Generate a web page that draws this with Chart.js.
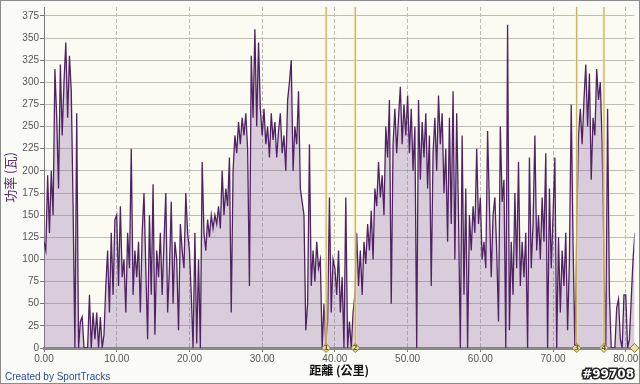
<!DOCTYPE html>
<html>
<head>
<meta charset="utf-8">
<script src="https://cdn.jsdelivr.net/npm/chart.js@4/dist/chart.umd.min.js"></script>
<style>
  html, body { margin: 0; padding: 0; background: #fafaf6; }
  #caixa { width: 640px; height: 384px; }
</style>
</head>
<body>
<div id="caixa"><canvas id="graficoPotencia" width="640" height="384"></canvas></div>
<script>
// distância entre amostras (km)
const PASSO = 0.25;

const potencia0a10 = [
  120, 110, 195, 130, 200, 150, 315, 260, 180, 320,
  240, 300, 345, 260, 330, 290, 160, 0, 265, 0,
  30, 35, 0, 0, 0, 60, 0, 40, 10, 40,
  0, 35, 0, 15, 70, 110, 40, 130, 60, 145,
];
const potencia10a20 = [
  150, 70, 160, 80, 100, 40, 130, 90, 225, 60,
  110, 80, 120, 40, 130, 175, 90, 10, 150, 60,
  185, 15, 110, 80, 130, 60, 120, 175, 40, 90,
  165, 50, 120, 100, 20, 140, 110, 90, 175, 130,
];
const potencia20a30 = [
  110, 60, 0, 130, 5, 100, 0, 210, 130, 110,
  145, 125, 150, 135, 150, 140, 160, 135, 200, 150,
  180, 160, 215, 40, 200, 240, 220, 255, 230, 260,
  240, 265, 225, 70, 330, 260, 360, 250, 345, 270,
];
const potencia30a40 = [
  240, 270, 230, 250, 215, 265, 235, 255, 215, 245,
  265, 220, 240, 200, 280, 300, 325, 200, 250, 230,
  290, 180, 165, 150, 20, 50, 230, 70, 110, 75,
  120, 90, 100, 0, 50, 5, 30, 170, 40, 100,
];
const potencia40a50 = [
  90, 60, 110, 40, 80, 0, 170, 0, 30, 0,
  40, 60, 130, 70, 110, 60, 120, 95, 140, 110,
  155, 100, 180, 160, 210, 170, 195, 150, 250, 215,
  280, 50, 230, 270, 220, 260, 295, 230, 275, 240,
];
const potencia50a60 = [
  285, 220, 270, 200, 250, 0, 280, 190, 255, 215,
  265, 180, 240, 70, 220, 260, 200, 285, 230, 265,
  175, 225, 120, 260, 140, 290, 100, 265, 150, 0,
  240, 60, 180, 0, 150, 110, 160, 130, 225, 140,
];
const potencia60a70 = [
  170, 100, 120, 90, 245, 160, 80, 150, 170, 110,
  30, 250, 165, 190, 0, 365, 20, 120, 60, 175,
  90, 210, 70, 120, 80, 130, 0, 215, 90, 140,
  240, 110, 150, 100, 170, 120, 220, 0, 180, 90,
];
const potencia70a81 = [
  150, 215, 0, 125, 40, 110, 70, 130, 20, 100,
  275, 120, 0, 130, 240, 270, 230, 280, 320, 250,
  310, 190, 260, 240, 315, 280, 300, 230, 100, 0,
  270, 60, 0, 0, 0, 45, 55, 10, 0, 60,
  60, 0, 10, 55, 100, 130,
];

// marcadores de volta (km)
const voltas = [38.8, 42.8, 73.25, 77.0];
const marcadores = [38.8, 42.8, 73.25, 77.0, 81.2];

const Y_MAX = 385;
const X_MAX = 81.2;

function montarDatasets() {
  const potencia = [
    ...potencia0a10, ...potencia10a20, ...potencia20a30, ...potencia30a40,
    ...potencia40a50, ...potencia50a60, ...potencia60a70, ...potencia70a81,
  ];
  const pontos = potencia.map((p, i) => ({ x: i * PASSO, y: p }));

  const datasets = [
    {
      type: "line",
      data: pontos,
      borderColor: "#4f2262",
      borderWidth: 1.3,
      backgroundColor: "rgba(135, 98, 165, 0.3)",
      fill: "origin",
      pointRadius: 0,
      tension: 0,
      order: 3,
    },
  ];

  voltas.forEach((km) => {
    datasets.push({
      type: "line",
      data: [{ x: km, y: 0 }, { x: km, y: Y_MAX }],
      borderColor: "rgba(245, 232, 180, 0.6)",
      borderWidth: 3,
      pointRadius: 0,
      order: 2,
    });
    datasets.push({
      type: "line",
      data: [{ x: km, y: 0 }, { x: km, y: Y_MAX }],
      borderColor: "#c2a550",
      borderWidth: 1,
      pointRadius: 0,
      order: 1,
    });
  });

  datasets.push({
    type: "scatter",
    data: marcadores.map((km) => ({ x: km, y: 0 })),
    pointStyle: "rectRot",
    pointRadius: 4.5,
    backgroundColor: "#ece0a2",
    borderColor: "#8a7632",
    borderWidth: 1,
    clip: false,
    order: 0,
  });

  return datasets;
}

const fundo = {
  id: "fundo",
  beforeDraw(chart) {
    const { ctx, chartArea: a } = chart;
    ctx.save();
    ctx.fillStyle = "#fafaf6";
    ctx.fillRect(0, 0, chart.width, chart.height);
    ctx.fillStyle = "#fcfbf2";
    ctx.fillRect(a.left, a.top, a.right - a.left, a.bottom - a.top);
    ctx.restore();
  },
  afterDraw(chart) {
    const ctx = chart.ctx;
    ctx.save();
    ctx.strokeStyle = "#8c8c8c";
    ctx.lineWidth = 1;
    ctx.strokeRect(0.5, 0.5, chart.width - 1, chart.height - 1);

    // números das voltas dentro dos marcadores
    const sx = chart.scales.x;
    const sy = chart.scales.y;
    ctx.font = "bold 7px 'DejaVu Sans'";
    ctx.fillStyle = "#6b5a20";
    ctx.textAlign = "center";
    ctx.textBaseline = "middle";
    voltas.forEach((km, i) => {
      ctx.fillText(String(i + 1), sx.getPixelForValue(km), sy.getPixelForValue(0) + 0.5);
    });

    ctx.textAlign = "left";
    ctx.textBaseline = "alphabetic";
    ctx.font = "10px 'Liberation Sans'";
    ctx.fillStyle = "#2b4d9c";
    ctx.fillText("Created by SportTracks", 5, 380);

    ctx.textAlign = "right";
    ctx.font = "bold 12px 'DejaVu Sans'";
    ctx.lineWidth = 3;
    ctx.strokeStyle = "#222";
    ctx.strokeText("#99708", 634, 378);
    ctx.fillStyle = "#ffffff";
    ctx.fillText("#99708", 634, 378);
    ctx.restore();
  },
};

new Chart(document.getElementById("graficoPotencia"), {
  data: { datasets: montarDatasets() },
  options: {
    responsive: false,
    animation: false,
    events: [],
    layout: { padding: { left: 0, right: 4, top: 3, bottom: 0 } },
    plugins: { legend: { display: false }, tooltip: { enabled: false } },
    scales: {
      x: {
        type: "linear",
        min: 0,
        max: X_MAX,
        afterBuildTicks: (scale) => {
          scale.ticks = scale.ticks.filter((t) => t.value % 10 === 0);
        },
        afterFit: (scale) => {
          scale.height = 36;
          scale.paddingLeft = 0;
          scale.paddingRight = 0;
        },
        ticks: {
          stepSize: 10,
          includeBounds: false,
          autoSkip: false,
          maxRotation: 0,
          padding: 1,
          color: "#555",
          font: { family: "'Liberation Sans'", size: 10 },
          callback: (v) => Number(v).toFixed(2),
        },
        grid: {
          color: "#bdbdb8",
          borderDash: [2, 2],
          tickColor: "#777",
          tickLength: 4,
          tickBorderDash: [],
        },
        border: { color: "#8a8a8a", width: 3, dash: [4, 2] },
        title: {
          display: true,
          text: "距離 (公里)",
          color: "#111",
          font: { family: "'Noto Sans CJK TC'", size: 12, weight: "bold" },
          padding: { top: 0, bottom: 6 },
        },
      },
      y: {
        min: 0,
        max: Y_MAX,
        afterBuildTicks: (scale) => {
          scale.ticks = scale.ticks.filter((t) => t.value % 25 === 0);
        },
        afterFit: (scale) => {
          scale.width = 44;
        },
        ticks: {
          stepSize: 25,
          includeBounds: false,
          autoSkip: false,
          padding: 1,
          color: "#555",
          font: { family: "'Liberation Sans'", size: 10 },
        },
        grid: {
          color: "#bdbdb8",
          borderDash: [2, 2],
          tickColor: "#777",
          tickLength: 4,
          tickBorderDash: [],
        },
        border: { color: "#7a7a7a", width: 1 },
        title: {
          display: true,
          text: "功率 (瓦)",
          color: "#5a2b6c",
          font: { family: "'Noto Sans CJK TC'", size: 13 },
          padding: { top: 2, bottom: 0 },
        },
      },
    },
  },
  plugins: [fundo],
});
</script>
</body>
</html>
